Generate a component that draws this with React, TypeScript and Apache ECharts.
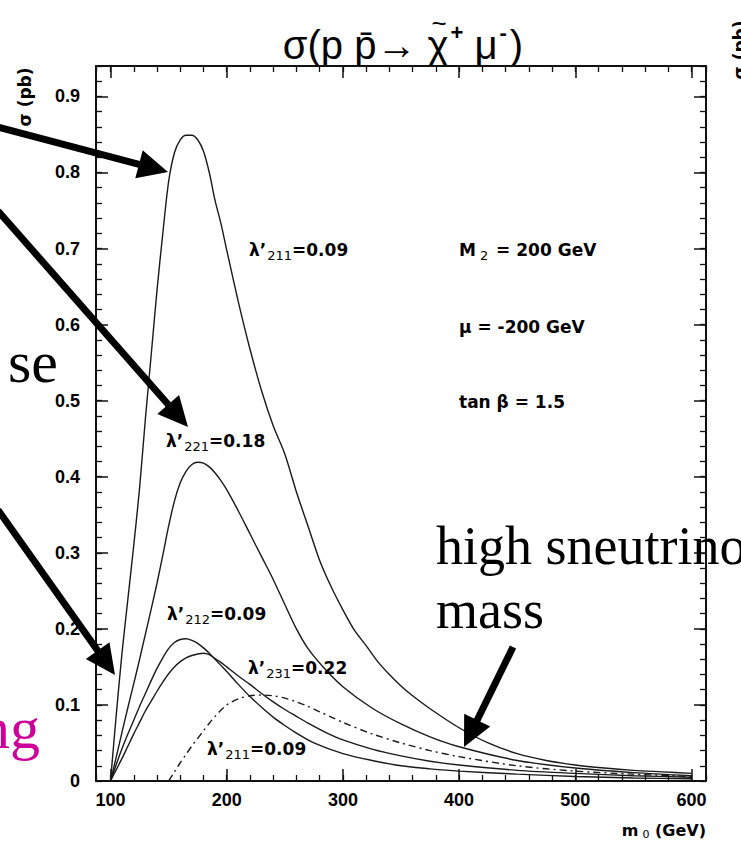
import React, { useEffect, useRef } from "react";
import * as echarts from "echarts";

// ---- axis ranges / ticks ----
const X_MIN = 87.5;
const X_MAX = 612.5;
const Y_MIN = 0;
const Y_MAX = 0.94;
const X_MAJOR = 100;
const X_MINOR = 20;
const Y_MAJOR = 0.1;
const Y_MINOR = 0.02;

// ---- curves: m0 (GeV) and sigma (pb) ----
// lambda'211 = 0.09 (solid, largest)
const l211X = [100,105,110,115,120,125,130,135,140,145,150,155,160,165,170,175,180,185,190,195,200,210,220,230,240,250,260,270,280,290,300,310,320,330,340,350,360,375,400,425,450,475,500,525,550,575,600];
const l211Y = [0,0.088,0.17,0.24,0.31,0.385,0.476,0.56,0.645,0.72,0.788,0.826,0.843,0.849,0.849,0.843,0.828,0.8,0.763,0.733,0.698,0.63,0.568,0.513,0.467,0.43,0.38,0.335,0.29,0.255,0.225,0.198,0.178,0.157,0.14,0.125,0.112,0.095,0.07,0.05,0.036,0.027,0.021,0.017,0.014,0.012,0.010];

// lambda'221 = 0.18
const l221X = [100,105,110,115,120,125,130,135,140,145,150,155,160,165,170,175,180,185,190,195,200,210,220,230,240,250,260,270,283,300,325,350,375,400,450,500,550,600];
const l221Y = [0,0.032,0.065,0.097,0.128,0.16,0.193,0.226,0.26,0.297,0.335,0.368,0.392,0.407,0.416,0.419,0.418,0.413,0.405,0.395,0.383,0.355,0.325,0.295,0.265,0.232,0.2,0.174,0.15,0.124,0.096,0.075,0.058,0.045,0.027,0.017,0.011,0.007];

// lambda'212 = 0.09
const l212X = [100,105,110,115,120,125,130,135,140,145,150,155,160,165,170,175,180,185,190,195,200,210,220,230,240,250,260,275,300,325,350,375,400,450,500,550,600];
const l212Y = [0,0.022,0.043,0.062,0.08,0.098,0.115,0.132,0.148,0.162,0.174,0.182,0.186,0.187,0.185,0.181,0.175,0.168,0.16,0.152,0.144,0.127,0.111,0.097,0.084,0.073,0.063,0.05,0.036,0.027,0.02,0.016,0.013,0.009,0.006,0.004,0.003];

// lambda'231 = 0.22
const l231X = [100,105,110,115,120,125,130,135,140,145,150,155,160,165,170,175,180,185,190,195,200,210,220,230,240,250,260,270,285,300,325,350,375,400,450,500,550,600];
const l231Y = [0,0.015,0.03,0.046,0.062,0.077,0.092,0.105,0.118,0.13,0.141,0.15,0.157,0.162,0.165,0.167,0.168,0.166,0.161,0.156,0.15,0.138,0.127,0.115,0.104,0.094,0.085,0.076,0.064,0.054,0.042,0.033,0.026,0.021,0.014,0.01,0.007,0.005];

// lambda'211 = 0.09, high sneutrino mass (dash-dot)
const l211hX = [150,155,160,165,170,175,180,185,190,195,200,210,220,230,240,250,260,270,280,290,300,325,350,375,400,450,500,550,600];
const l211hY = [0,0.012,0.024,0.035,0.046,0.056,0.066,0.076,0.085,0.093,0.1,0.108,0.112,0.113,0.112,0.109,0.104,0.098,0.091,0.084,0.077,0.062,0.05,0.04,0.032,0.02,0.013,0.009,0.006];

const pairs = (xs: number[], ys: number[]) => xs.map((x, i) => [x, ys[i]]);

const INK = "#111";
const PAW = "DejaVu Sans";
const AX = "Liberation Sans";
const SERIF = "Liberation Serif";

const lam = (sub: string, val: string) => `{l|λ’}{s|${sub}}{l|=${val}}`;
const annRich = {
  l: { fontFamily: PAW, fontWeight: "bold", fontSize: 17, fill: "#000" },
  s: { fontFamily: PAW, fontWeight: "normal", fontSize: 13, fill: "#000", padding: [10, 0, 0, 1] },
};

function arrow(x1: number, y1: number, x2: number, y2: number) {
  const w = 7, hl = 30, hw = 29;
  const dx = x2 - x1, dy = y2 - y1;
  const L = Math.hypot(dx, dy);
  const ux = dx / L, uy = dy / L;
  const bx = x2 - ux * hl, by = y2 - uy * hl;
  const px = -uy, py = ux;
  return [
    { type: "line", shape: { x1, y1, x2: bx + ux * 3, y2: by + uy * 3 }, style: { stroke: "#000", lineWidth: w }, z: 100 },
    {
      type: "polygon",
      shape: { points: [[x2, y2], [bx + (px * hw) / 2, by + (py * hw) / 2], [bx - (px * hw) / 2, by - (py * hw) / 2]] },
      style: { fill: "#000" },
      z: 100,
    },
  ];
}

function annText(x: number, y: number, text: string) {
  return { type: "text", x, y, z: 50, style: { text, rich: annRich, textAlign: "left", textVerticalAlign: "middle" } };
}

function plainText(x: number, y: number, text: string, font: string, extra: any = {}) {
  return { type: "text", x, y, z: 50, style: { text, font, fill: "#000", textAlign: "left", textVerticalAlign: "middle", ...extra } };
}

// Title laid out piece by piece (measured), so the tilde sits on the chi
function titleElements(cx: number, cy: number): any[] {
  const big = `40px ${AX}`;
  const small = `bold 22px ${AX}`;
  const canvas = document.createElement("canvas");
  const ctx = canvas.getContext("2d")!;
  const w = (t: string, f: string) => {
    ctx.font = f;
    return ctx.measureText(t).width;
  };
  const pieces = [
    { t: "σ(p p\u0304→ ", f: big, dy: 0 },
    { t: "χ", f: big, dy: 0, tilde: true },
    { t: "+", f: small, dy: -13, pad: 2 },
    { t: " μ", f: big, dy: 0 },
    { t: "-", f: small, dy: -13, pad: 2 },
    { t: ")", f: big, dy: 0, pad: 3 },
  ];
  const widths = pieces.map((p) => w(p.t, p.f) + (p.pad || 0));
  const total = widths.reduce((a, b) => a + b, 0);
  let x = cx - total / 2;
  const out: any[] = [];
  pieces.forEach((p, i) => {
    const px = x + (p.pad || 0);
    out.push({ type: "text", x: px, y: cy + p.dy, style: { text: p.t, font: p.f, fill: "#000", textAlign: "left", textVerticalAlign: "middle" } });
    if ((p as any).tilde) {
      out.push({
        type: "text",
        x: px + widths[i] / 2 + 1,
        y: cy - 22,
        style: { text: "~", font: `26px ${AX}`, fill: "#000", textAlign: "center", textVerticalAlign: "middle" },
      });
    }
    x += widths[i];
  });
  return out;
}

function buildOption(): any {
  const lineTick = (len: number, w: number) => ({ show: true, inside: true, length: len, lineStyle: { color: INK, width: w } });
  const axLine = { show: true, onZero: false, lineStyle: { color: INK, width: 2 } };
  const noLine = { show: false, onZero: false };
  const xBase = { type: "value", min: X_MIN, max: X_MAX, splitLine: { show: false }, gridIndex: 0 };
  const yBase = { type: "value", min: Y_MIN, max: Y_MAX, splitLine: { show: false }, gridIndex: 0 };
  const axLabel = { color: "#000", fontFamily: AX, fontWeight: "bold", fontSize: 18 };

  const series = [
    { name: "l211", x: l211X, y: l211Y, type: "solid" },
    { name: "l221", x: l221X, y: l221Y, type: "solid" },
    { name: "l212", x: l212X, y: l212Y, type: "solid" },
    { name: "l231", x: l231X, y: l231Y, type: "solid" },
    { name: "l211h", x: l211hX, y: l211hY, type: [7, 4, 2, 4] },
  ].map((s) => ({
    type: "line",
    name: s.name,
    data: pairs(s.x, s.y),
    xAxisIndex: 0,
    yAxisIndex: 0,
    symbol: "none",
    showSymbol: false,
    smooth: 0.3,
    lineStyle: { color: "#1a1a1a", width: 1.4, type: s.type },
    z: 3,
  }));

  const graphic: any[] = [
    ...titleElements(403, 45),
    // y axis title
    {
      type: "text",
      x: 25,
      y: 97,
      rotation: Math.PI / 2,
      style: { text: "σ (pb)", font: `bold 17px ${PAW}`, fill: "#000", textAlign: "center", textVerticalAlign: "middle" },
    },
    // cut-off neighbouring axis title at right edge
    {
      type: "text",
      x: 740,
      y: 50,
      rotation: Math.PI / 2,
      style: { text: "σ (pb)", font: `bold 17px ${PAW}`, fill: "#000", textAlign: "center", textVerticalAlign: "middle" },
    },
    // x axis title
    {
      type: "text",
      x: 706,
      y: 830,
      style: {
        text: "{b|m}{s|0}{b| (GeV)}",
        textAlign: "right",
        textVerticalAlign: "middle",
        rich: {
          b: { fontFamily: PAW, fontWeight: "bold", fontSize: 16, fill: "#000" },
          s: { fontFamily: PAW, fontSize: 11, fill: "#000", padding: [8, 0, 0, 4] },
        },
      },
    },
    // curve labels
    annText(249, 250, lam("211", "0.09")),
    annText(166, 441, lam("221", "0.18")),
    annText(167, 614, lam("212", "0.09")),
    annText(248, 668, lam("231", "0.22")),
    annText(207, 749, lam("211", "0.09")),
    // parameters
    {
      type: "text",
      x: 459,
      y: 250,
      z: 50,
      style: {
        text: "{l|M}{s|2}{l| = 200 GeV}",
        textAlign: "left",
        textVerticalAlign: "middle",
        rich: { l: annRich.l, s: { ...annRich.s, padding: [10, 2, 0, 4] } },
      },
    },
    plainText(459, 327, "μ = -200 GeV", `bold 17px ${PAW}`),
    plainText(459, 402, "tan β = 1.5", `bold 17px ${PAW}`),
    // slide overlay texts
    plainText(58, 362, "se", `60px ${SERIF}`, { textAlign: "right" }),
    plainText(40, 728, "ng", `60px ${SERIF}`, { textAlign: "right", fill: "#CC0099" }),
    plainText(436, 546, "high sneutrino", `54px ${SERIF}`),
    plainText(436, 610, "mass", `54px ${SERIF}`),
    // arrows
    ...arrow(-2, 127, 168, 172),
    ...arrow(-2, 211, 188, 427),
    ...arrow(-2, 510, 115, 675),
    ...arrow(513, 647, 464, 747),
  ];

  return {
    animation: false,
    backgroundColor: "#fff",
    grid: { left: 96, right: 35, top: 66, bottom: 64, containLabel: false, outerBoundsMode: "none" },
    xAxis: [
      { ...xBase, position: "bottom", minInterval: X_MAJOR, maxInterval: X_MAJOR, axisLine: axLine, axisTick: lineTick(12, 1.5),
        axisLabel: { ...axLabel, margin: 10, showMinLabel: false, showMaxLabel: false } },
      { ...xBase, position: "bottom", minInterval: X_MINOR, maxInterval: X_MINOR, axisLine: noLine, axisTick: lineTick(6, 1.3), axisLabel: { show: false } },
      { ...xBase, position: "top", minInterval: X_MAJOR, maxInterval: X_MAJOR, axisLine: axLine, axisTick: lineTick(12, 1.5), axisLabel: { show: false } },
      { ...xBase, position: "top", minInterval: X_MINOR, maxInterval: X_MINOR, axisLine: noLine, axisTick: lineTick(6, 1.3), axisLabel: { show: false } },
    ],
    yAxis: [
      { ...yBase, position: "left", minInterval: Y_MAJOR, maxInterval: Y_MAJOR, axisLine: axLine, axisTick: lineTick(12, 1.5),
        axisLabel: { ...axLabel, margin: 16, showMinLabel: true, showMaxLabel: false } },
      { ...yBase, position: "left", minInterval: Y_MINOR, maxInterval: Y_MINOR, axisLine: noLine, axisTick: lineTick(6, 1.3), axisLabel: { show: false } },
      { ...yBase, position: "right", minInterval: Y_MAJOR, maxInterval: Y_MAJOR, axisLine: axLine, axisTick: lineTick(12, 1.5), axisLabel: { show: false } },
      { ...yBase, position: "right", minInterval: Y_MINOR, maxInterval: Y_MINOR, axisLine: noLine, axisTick: lineTick(6, 1.3), axisLabel: { show: false } },
    ],
    series,
    graphic,
  };
}

export default function App() {
  const ref = useRef<HTMLDivElement>(null);
  useEffect(() => {
    const chart = echarts.init(ref.current!, null, { renderer: "svg" });
    chart.setOption(buildOption());
    return () => chart.dispose();
  }, []);
  return <div ref={ref} style={{ position: "absolute", left: 0, top: 0, width: 741, height: 845, background: "#fff" }} />;
}
